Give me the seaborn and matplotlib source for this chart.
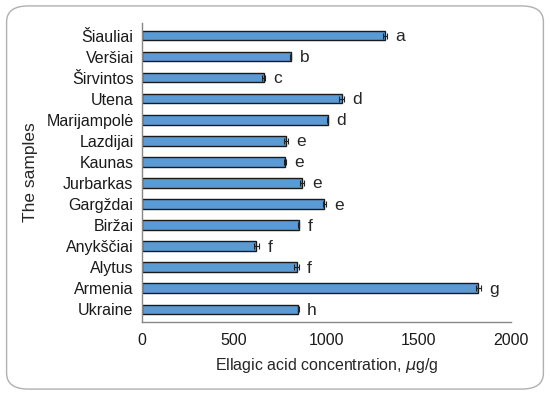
import matplotlib
matplotlib.use("Agg")
import matplotlib.pyplot as plt
import pandas as pd
import seaborn as sns
from matplotlib.patches import FancyBboxPatch

samples = ["Šiauliai", "Veršiai", "Širvintos", "Utena", "Marijampolė", "Lazdijai",
           "Kaunas", "Jurbarkas", "Gargždai", "Biržai", "Anykščiai", "Alytus",
           "Armenia", "Ukraine"]
ellagic = [1318, 806, 660, 1082, 1006, 780, 775, 869, 988, 849, 621, 838, 1823, 847]
errors = [10, 3, 8, 12, 3, 12, 5, 10, 8, 3, 15, 12, 15, 3]
letters = ["a", "b", "c", "d", "d", "e", "e", "e", "e", "f", "f", "f", "g", "h"]

df = pd.DataFrame({"sample": samples, "value": ellagic, "err": errors, "letter": letters})

sns.set_theme(style="white")
plt.rcParams["font.family"] = ["Liberation Sans", "DejaVu Sans"]

fig = plt.figure(figsize=(5.5, 3.95), dpi=100)
ax = fig.add_axes([0.258, 0.185, 0.671, 0.757])

sns.barplot(data=df, x="value", y="sample", orient="h", color="#5b9bd5",
            edgecolor="#1a1a1a", linewidth=1.0, width=0.45, saturation=1, ax=ax)
ax.errorbar(df["value"], range(len(df)), xerr=df["err"], fmt="none",
            ecolor="#222222", elinewidth=0.8, capsize=2.5, capthick=0.8)

for i, row in df.iterrows():
    ax.text(row["value"] + row["err"] + 45, i + 0.05, row["letter"], va="center",
            ha="left", fontsize=12.5)

ax.set_xlim(0, 2000)
ax.set_xticks([0, 500, 1000, 1500, 2000])
ax.set_ylim(len(df) - 0.4, -0.6)
ax.tick_params(axis="both", length=0, labelsize=11.5, colors="#1a1a1a")
ax.tick_params(axis="x", pad=8)
ax.tick_params(axis="y", pad=6)
ax.set_ylabel("The samples", fontsize=12.5, labelpad=6)
ax.set_xlabel(r"Ellagic acid concentration, $\mu$g/g", fontsize=11.5, labelpad=6)
for s in ["top", "right"]:
    ax.spines[s].set_visible(False)
for s in ["left", "bottom"]:
    ax.spines[s].set_color("#888888")
    ax.spines[s].set_linewidth(1.0)

border = FancyBboxPatch((0.012, 0.015), 0.976, 0.97, boxstyle="round,pad=0,rounding_size=0.04",
                        transform=fig.transFigure, fill=False, edgecolor="#b0b0b0",
                        linewidth=1.0)
fig.patches.append(border)

fig.savefig("out.png", dpi=100)
